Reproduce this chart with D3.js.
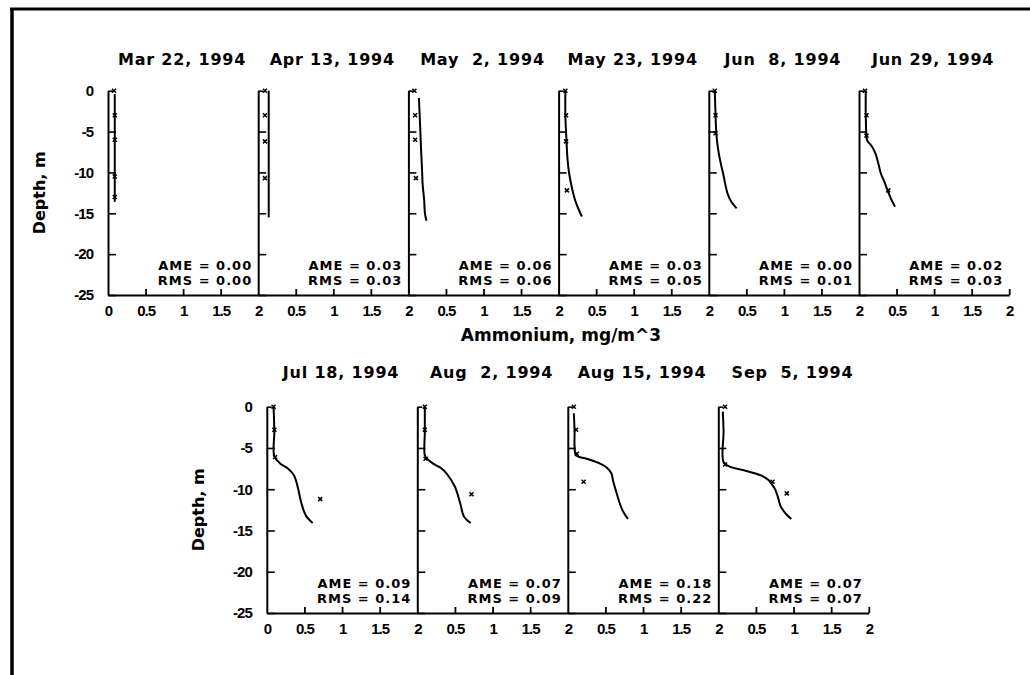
<!DOCTYPE html>
<html>
<head>
<meta charset="utf-8">
<script src="https://cdn.jsdelivr.net/npm/d3@7"></script>
<style>
  html, body { margin: 0; padding: 0; background: #fff; }
  svg { display: block; }
  .tick text { font-family: "Liberation Sans", Arial, sans-serif; font-weight: bold; font-size: 15px; fill: #000; }
</style>
</head>
<body>
<svg id="chart" width="1030" height="675"></svg>
<script>
// ---------------- DATA ----------------
const dates = ["Mar 22, 1994", "Apr 13, 1994", "May  2, 1994", "May 23, 1994", "Jun  8, 1994", "Jun 29, 1994",
               "Jul 18, 1994", "Aug  2, 1994", "Aug 15, 1994", "Sep  5, 1994"];
const ameValues = ["0.00", "0.03", "0.06", "0.03", "0.00", "0.02", "0.09", "0.07", "0.18", "0.07"];
const rmsValues = ["0.00", "0.03", "0.06", "0.05", "0.01", "0.03", "0.14", "0.09", "0.22", "0.07"];

const xTicks = [0, 0.5, 1, 1.5, 2];
const xTickLabels = ["0", "0.5", "1", "1.5", "2"];
const yTicks = [0, -5, -10, -15, -20, -25];
const yTickLabels = ["0", "-5", "-10", "-15", "-20", "-25"];

// model profiles: [ammonium, depth]
const modelMar22 = [[0.09, -0.4], [0.09, -13.6]];
const modelApr13 = [[0.14, 0], [0.14, -15.5]];
const modelMay02 = [[0.14, -0.9], [0.15, -3], [0.16, -5.2], [0.17, -7.5], [0.18, -9.3], [0.19, -11.5], [0.21, -13.4], [0.22, -15], [0.24, -15.9]];
const modelMay23 = [[0.09, 0], [0.09, -3], [0.1, -5.2], [0.12, -8.5], [0.14, -10.1], [0.18, -12], [0.22, -13.4], [0.27, -14.6], [0.31, -15.4]];
const modelJun08 = [[0.08, 0], [0.09, -3], [0.1, -5.2], [0.12, -6.9], [0.15, -8.5], [0.19, -10.1], [0.25, -12.6], [0.3, -13.6], [0.37, -14.4]];
const modelJun29 = [[0.09, 0], [0.09, -3], [0.1, -5.6], [0.11, -6.1], [0.17, -6.8], [0.22, -7.7], [0.26, -9], [0.29, -10.1], [0.34, -11.2], [0.38, -12.2], [0.43, -13.3], [0.48, -14.2]];
const modelJul18 = [[0.09, 0], [0.1, -3], [0.1, -6], [0.18, -6.9], [0.28, -7.5], [0.36, -8.3], [0.41, -9.7], [0.46, -11.7], [0.52, -13.2], [0.61, -14.1]];
const modelAug02 = [[0.1, 0], [0.1, -3], [0.1, -5.9], [0.13, -6.3], [0.21, -6.9], [0.31, -7.4], [0.39, -8.1], [0.5, -9.7], [0.57, -11.7], [0.62, -13.3], [0.71, -14.1]];
const modelAug15 = [[0.08, -0.8], [0.09, -3], [0.09, -4.8], [0.11, -5.9], [0.25, -6.3], [0.43, -6.9], [0.52, -7.4], [0.58, -8.1], [0.6, -8.9], [0.64, -10.2], [0.69, -11.7], [0.74, -12.8], [0.8, -13.6]];
const modelSep05 = [[0.06, -0.6], [0.07, -3], [0.07, -6.7], [0.16, -7.3], [0.34, -7.7], [0.56, -8.3], [0.67, -8.9], [0.72, -9.5], [0.76, -10.1], [0.8, -11.2], [0.83, -12.1], [0.9, -13], [0.97, -13.6]];

// observations: [ammonium, depth]
const obsMar22 = [[0.08, 0], [0.09, -3], [0.09, -6], [0.09, -10.5], [0.09, -13]];
const obsApr13 = [[0.09, 0], [0.09, -3], [0.09, -6.2], [0.09, -10.7]];
const obsMay02 = [[0.08, 0], [0.09, -3], [0.09, -6], [0.1, -10.7]];
const obsMay23 = [[0.09, 0], [0.1, -3], [0.1, -6.2], [0.11, -12.2]];
const obsJun08 = [[0.08, 0], [0.09, -3], [0.09, -5.2]];
const obsJun29 = [[0.08, 0], [0.1, -3], [0.1, -5.5], [0.39, -12.2]];
const obsJul18 = [[0.09, 0], [0.1, -2.8], [0.11, -6.1], [0.71, -11.2]];
const obsAug02 = [[0.1, 0], [0.1, -2.8], [0.11, -6.3], [0.72, -10.6]];
const obsAug15 = [[0.08, 0], [0.11, -2.8], [0.12, -5.7], [0.21, -9.1]];
const obsSep05 = [[0.09, 0], [0.09, -7], [0.72, -9.1], [0.91, -10.5]];

const models = [modelMar22, modelApr13, modelMay02, modelMay23, modelJun08, modelJun29, modelJul18, modelAug02, modelAug15, modelSep05];
const observations = [obsMar22, obsApr13, obsMay02, obsMay23, obsJun08, obsJun29, obsJul18, obsAug02, obsAug15, obsSep05];

// ---------------- LAYOUT ----------------
const svg = d3.select("#chart");
const titleFont = '"DejaVu Sans", "Liberation Sans", Arial, sans-serif';

// frame (top & left heavy lines)
svg.append("line").attr("x1", 10).attr("x2", 1030).attr("y1", 9).attr("y2", 9)
  .attr("stroke", "#000").attr("stroke-width", 3);
svg.append("line").attr("x1", 12).attr("x2", 12).attr("y1", 8).attr("y2", 675)
  .attr("stroke", "#000").attr("stroke-width", 3.5);

const rows = [
  { start: 108, width: 150.2, top: 90.7, bottom: 295, idx: [0, 1, 2, 3, 4, 5], depthX: 39, titleY: 65 },
  { start: 266.8, width: 150.5, top: 406.7, bottom: 613, idx: [6, 7, 8, 9], depthX: 198, titleY: 378 }
];

const line = d3.line().curve(d3.curveCatmullRom.alpha(0.5));

rows.forEach(row => {
  row.idx.forEach((di, j) => {
    const left = row.start + j * row.width;
    const x = d3.scaleLinear().domain([0, 2]).range([left, left + row.width]);
    const y = d3.scaleLinear().domain([-25, 0]).range([row.bottom, row.top]);
    const g = svg.append("g");
    const isFirst = j === 0;
    const isLast = j === row.idx.length - 1;

    // x axis
    const xa = d3.axisBottom(x)
      .tickValues(isFirst ? xTicks : xTicks.slice(1))
      .tickFormat(v => xTickLabels[xTicks.indexOf(v)])
      .tickSizeInner(-6).tickSizeOuter(0).tickPadding(10);
    const gx = g.append("g").attr("transform", `translate(0,${row.bottom})`).call(xa);
    gx.select(".domain").attr("stroke-width", 2);
    gx.selectAll(".tick line").attr("stroke-width", 1.8);
    gx.selectAll(".tick text").attr("letter-spacing", "-1px");
    gx.selectAll(".tick").filter(v => v === 0).select("line").remove();
    if (!isLast) gx.selectAll(".tick").filter(v => v === 2).select("line").remove();

    // y axis
    const ya = d3.axisLeft(y)
      .tickValues(yTicks)
      .tickFormat(v => isFirst ? yTickLabels[yTicks.indexOf(v)] : "")
      .tickSizeInner(-8).tickSizeOuter(0).tickPadding(15);
    const gy = g.append("g").attr("transform", `translate(${left},0)`).call(ya);
    gy.select(".domain").attr("stroke-width", 2);
    gy.selectAll(".tick line").attr("stroke-width", 1.6);
    gy.selectAll(".tick").filter(v => v === 0).select("line").attr("x2", 5);
    gy.selectAll(".tick text").attr("letter-spacing", "-1px");

    // model curve
    g.append("path")
      .attr("d", line(models[di].map(d => [x(d[0]), y(d[1])])))
      .attr("fill", "none").attr("stroke", "#000").attr("stroke-width", 2);

    // observations
    g.selectAll("path.obs").data(observations[di]).join("path")
      .attr("class", "obs")
      .attr("transform", d => `translate(${x(d[0])},${y(d[1])})`)
      .attr("d", "M-2,-2L2,2M-2,2L2,-2")
      .attr("stroke", "#000").attr("stroke-width", 1.5).attr("fill", "none");

    // title
    g.append("text")
      .attr("x", (x(0) + x(2)) / 2 - 1).attr("y", row.titleY)
      .attr("text-anchor", "middle")
      .attr("font-family", titleFont).attr("font-weight", "bold")
      .attr("font-size", 16).attr("letter-spacing", "0.8px")
      .attr("xml:space", "preserve").style("white-space", "pre")
      .text(dates[di]);

    // AME / RMS
    const right = x(2) - 6;
    [["AME", ameValues[di], row.bottom - 25], ["RMS", rmsValues[di], row.bottom - 10]].forEach(([lab, val, yy]) => {
      g.append("text")
        .attr("x", right).attr("y", yy)
        .attr("text-anchor", "end")
        .attr("font-family", titleFont).attr("font-weight", "bold")
        .attr("font-size", 13).attr("letter-spacing", "1px")
        .text(`${lab} = ${val}`);
    });
  });

  // Depth label
  svg.append("text")
    .attr("transform", `translate(${row.depthX},${(row.top + row.bottom) / 2}) rotate(-90)`)
    .attr("text-anchor", "middle").attr("dy", "0.35em")
    .attr("font-family", titleFont).attr("font-weight", "bold").attr("font-size", 16)
    .text("Depth, m");
});

// x axis title
svg.append("text")
  .attr("x", 561).attr("y", 341)
  .attr("text-anchor", "middle")
  .attr("font-family", titleFont).attr("font-weight", "bold").attr("font-size", 17)
  .text("Ammonium, mg/m^3");
</script>
</body>
</html>
